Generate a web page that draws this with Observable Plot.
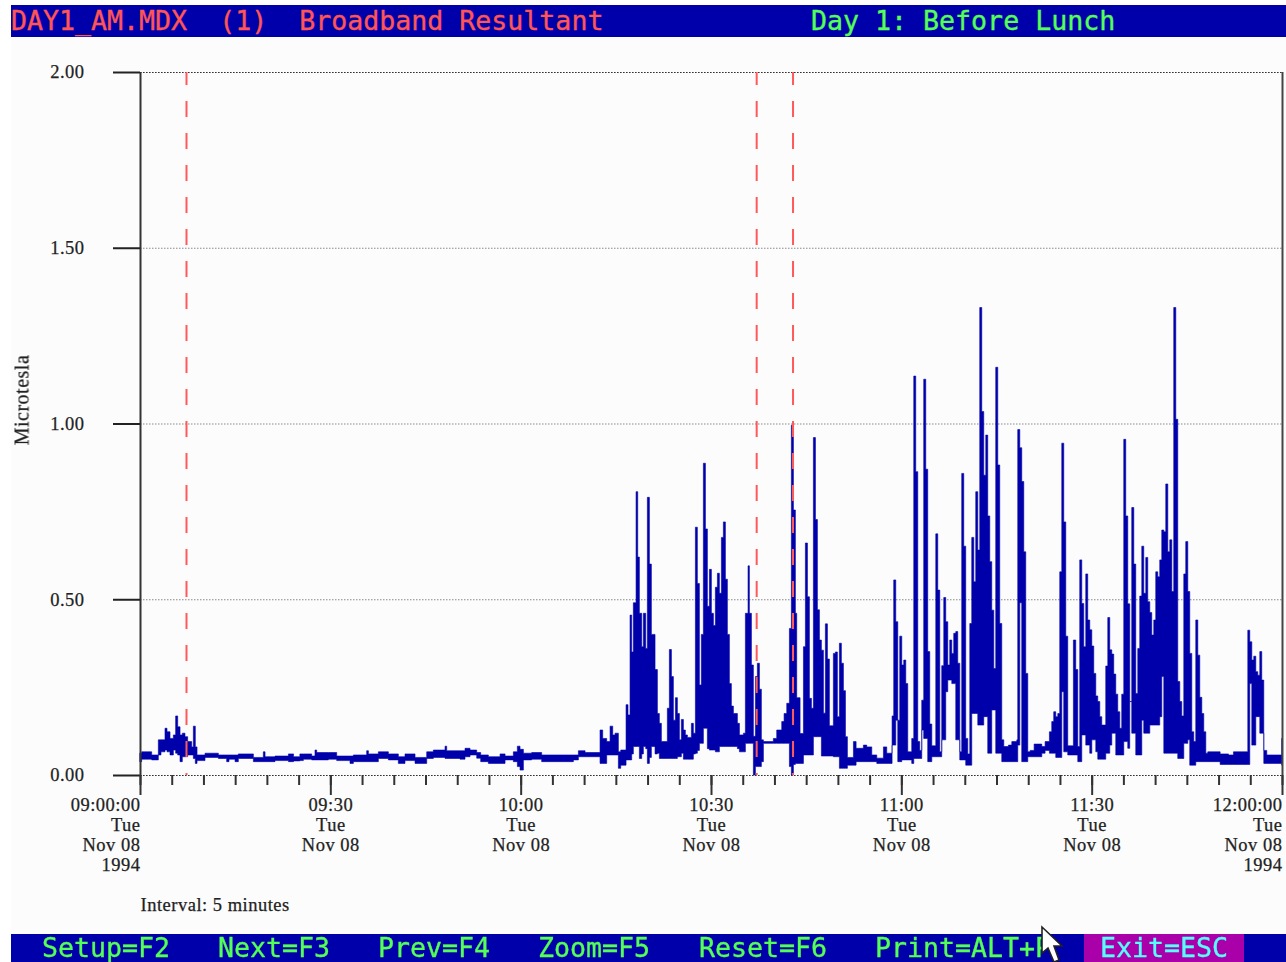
<!DOCTYPE html>
<html><head><meta charset="utf-8">
<script src="https://cdn.jsdelivr.net/npm/d3@7"></script>
<script src="https://cdn.jsdelivr.net/npm/@observablehq/plot@0.6"></script>
<style>
html,body{margin:0;padding:0;background:#fff;width:1286px;height:962px;overflow:hidden}
#page{position:relative;width:1286px;height:962px;filter:blur(0.4px)}
.bar{position:relative;margin-left:11px;width:1275px;background:#0000aa;font-family:"DejaVu Sans Mono",monospace;font-size:26.6px;white-space:pre;-webkit-text-stroke:0.35px currentColor}
.bar span{position:absolute;line-height:26px;height:26px}
#head{margin-top:5px;height:32px}
#head span{top:3px}
#foot{height:28px}
#foot span{top:1px}
#chart{margin-left:11px;width:1275px;height:897px;background:#fcfcfc}
#chart svg{display:block;background:transparent}
#chart text{letter-spacing:.5px;stroke:#222;stroke-width:.25px}
#cursor{position:absolute;left:1040px;top:920px}
</style></head><body><div id="page">
<div id="head" class="bar"></div>
<div id="chart"></div>
<div id="foot" class="bar"></div>
<svg id="cursor" width="26" height="40" viewBox="0 0 26 40"><path d="M2 2V28L8 23L14 37L19 35L14 21H22Z" fill="#fff" stroke="#222" stroke-width="1.6"/></svg>
</div>
<script>
// minutes after 09:00:00 at which each reading starts
const minute = [
0,.26,1.84,2.89,3.31,3.94,4.26,4.73,5.26,5.62,5.94,6.31,6.67,7.09,7.51,8.15,8.41,8.72,8.99,10.25,
12.35,13.66,14.03,14.98,15.5,17.87,19.44,19.71,21.28,23.4,24.2,25.2,25.75,27.06,27.58,27.85,29.69,31,33.1,33.63,
35.73,36,37.57,39.15,40.72,41.77,43.35,45.19,46.24,48.08,48.34,50.44,51.23,52.02,53.07,53.7,54.91,56.75,57.54,58.85,
59.48,59.9,60.43,61.74,63.31,68.31,69.1,70.15,72.51,72.93,73.56,74.09,74.51,74.88,75.4,75.77,76.61,76.92,77.24,77.5,
77.76,78.19,78.45,78.71,79.08,79.34,79.71,79.97,80.29,80.6,81.18,81.55,81.86,82.18,83.12,83.44,83.76,84.07,84.39,84.7,
85.02,85.33,85.65,85.96,86.28,86.91,87.22,87.54,87.85,88.17,88.48,88.8,89.12,89.43,89.75,90.06,90.38,90.69,91.01,91.32,
91.64,91.95,92.27,92.58,92.9,93.21,93.53,94.16,94.48,95.11,95.42,95.84,96.05,96.37,96.68,97,97.31,97.63,97.94,98.26,
99.83,100.36,101.15,101.52,101.94,102.36,102.67,102.99,103.3,103.51,104.04,104.57,104.88,105.2,105.51,105.83,106.14,106.46,106.77,107.09,
107.4,107.72,108.03,108.35,108.66,109.29,109.61,109.92,110.24,110.55,110.87,111.19,111.5,112.45,112.87,114.02,114.55,115.34,116.13,117.18,
117.7,118.54,118.8,119.12,119.44,119.75,120.07,120.38,120.7,121.01,121.64,121.96,122.27,122.59,122.9,123.22,123.53,123.85,124.16,124.48,
124.8,125.43,125.74,126.06,126.37,126.69,127,127.32,127.63,127.95,128.26,128.58,128.89,129.21,129.52,129.84,130.15,130.47,130.79,131.1,
131.42,131.73,132.05,132.36,132.68,132.99,133.31,133.62,133.94,134.25,134.57,134.88,135.2,135.51,135.83,136.15,136.88,137.41,138.2,138.35,
138.67,138.98,139.3,139.61,139.93,140.3,140.93,142.14,142.66,143.34,143.71,144.02,144.34,144.66,144.97,145.29,145.6,145.92,146.23,147.12,
147.49,147.81,148.12,148.44,148.75,149.07,149.38,149.7,150.02,150.33,150.65,150.96,151.28,151.59,152.22,152.54,152.85,153.17,153.48,153.8,
154.11,154.43,154.74,155.06,155.37,155.69,156,156.32,156.64,156.95,157.27,157.58,157.9,158.21,158.53,158.84,159.16,159.47,159.79,160.1,
160.42,160.73,161.05,161.37,161.68,162,162.31,162.63,162.94,163.26,163.57,163.89,164.2,164.52,164.83,165.15,165.46,165.78,166.09,166.41,
166.73,167.04,167.36,167.67,167.99,168.3,170.25,171.56,172.35,173.66,174.61,174.92,175.24,175.55,175.87,176.18,176.5,176.81,177.13,177.6,
178.65,179.97,180];
// top of the trace in each reading (microtesla)
const high = [
.062,.066,.057,.1,.1,.133,.123,.104,.114,.168,.137,.114,.119,.109,.095,.08,.139,.08,.057,.062,
.057,.057,.057,.057,.06,.05,.066,.052,.054,.06,.052,.06,.06,.054,.071,.064,.064,.054,.054,.057,
.069,.06,.066,.06,.052,.06,.05,.066,.071,.082,.069,.069,.076,.071,.064,.057,.052,.06,.054,.066,
.082,.073,.062,.064,.057,.057,.069,.064,.128,.104,.095,.139,.114,.119,.066,.071,.2,.171,.455,.35,
.49,.806,.62,.46,.365,.46,.36,.79,.6,.4,.3,.175,.147,.095,.19,.357,.28,.156,.22,.175,
.1,.158,.128,.114,.107,.147,.119,.705,.545,.256,.4,.887,.7,.48,.585,.46,.425,.534,.574,.517,
.676,.72,.557,.4,.26,.196,.175,.147,.114,.119,.46,.595,.46,.313,.11,.28,.318,.244,.1,.095,
.104,.128,.152,.175,.204,.417,.995,.754,.46,.22,.118,.365,.66,.507,.218,.19,.96,.727,.47,.384,
.355,.176,.43,.33,.14,.346,.35,.166,.375,.318,.24,.109,.05,.095,.076,.085,.08,.057,.048,.08,
.062,.168,.555,.436,.156,.395,.313,.327,.26,.066,.104,1.135,.863,.095,.07,.213,1.126,.87,.351,.145,
.083,.686,.526,.066,.311,.505,.436,.313,.384,.346,.403,.408,.318,.066,.858,.651,.104,.06,.431,.676,
.55,.806,.64,1.33,1.034,.853,.967,.737,.607,.469,.303,1.16,.882,.431,.1,.081,.085,.095,.1,.983,
.931,.835,.635,.289,.066,.07,.088,.081,.095,.123,.152,.18,.166,.175,.578,.944,.72,.395,.083,.384,
.3,.081,.612,.488,.365,.572,.441,.413,.367,.289,.225,.209,.166,.142,.31,.448,.356,.344,.287,.23,
.18,.133,.23,.955,.737,.487,.209,.761,.6,.232,.36,.509,.651,.517,.619,.493,.462,.398,.441,.578,
.564,.612,.697,.692,.828,.635,.669,.522,1.33,1.012,.266,.209,.168,.572,.664,.522,.346,.123,.095,.441,
.341,.221,.175,.123,.062,.066,.06,.057,.066,.066,.412,.379,.327,.338,.294,.284,.351,.27,.07,.057,
.057,.104,.104];
// bottom of the trace in each reading (microtesla)
const low = [
.038,.045,.043,.057,.066,.071,.066,.057,.071,.062,.057,.038,.052,.052,.057,.057,.047,.033,.041,.05,
.047,.038,.045,.038,.047,.038,.038,.038,.041,.038,.04,.041,.045,.043,.043,.043,.045,.041,.033,.038,
.038,.038,.047,.043,.033,.041,.033,.047,.05,.047,.047,.045,.052,.057,.048,.038,.033,.033,.043,.038,
.024,.014,.043,.045,.038,.043,.052,.052,.033,.033,.057,.057,.057,.057,.019,.028,.043,.043,.043,.06,
.081,.081,.081,.047,.06,.081,.075,.033,.05,.081,.06,.062,.047,.047,.047,.047,.047,.047,.047,.052,
.052,.062,.045,.045,.045,.045,.06,.062,.07,.09,.09,.133,.133,.075,.071,.071,.071,.066,.066,.081,
.081,.081,.081,.081,.081,.081,.081,.075,.066,.066,.09,.09,.09,.09,0,.024,.024,.024,.038,.09,
.09,.09,.09,.09,.09,.024,0,.03,.033,.033,.033,.057,.057,.057,.057,.057,.109,.109,.109,.109,
.054,.054,.054,.054,.054,.052,.052,.052,.019,.019,.019,.019,.028,.028,.038,.038,.038,.038,.033,.033,
.033,.085,.085,.156,.038,.038,.043,.043,.043,.043,.033,.047,.047,.047,.047,.128,.104,.104,.038,.038,
.052,.052,.052,.052,.1,.1,.237,.27,.27,.26,.26,.1,.1,.043,.043,.043,.028,.028,.028,.175,
.175,.175,.142,.142,.142,.166,.166,.062,.062,.185,.185,.062,.062,.062,.038,.038,.038,.038,.038,.085,
.49,.038,.038,.038,.052,.052,.052,.062,.07,.062,.062,.062,.05,.05,.05,.237,.066,.066,.057,.057,
.057,.038,.038,.114,.114,.085,.085,.062,.1,.1,.066,.045,.045,.045,.062,.062,.085,.119,.119,.057,
.057,.057,.057,.095,.095,.076,.209,.119,.119,.057,.057,.057,.156,.119,.119,.119,.142,.142,.142,.142,
.142,.166,.28,.062,.062,.062,.062,.062,.062,.062,.047,.047,.047,.09,.09,.1,.028,.028,.028,.038,
.038,.038,.038,.038,.038,.038,.03,.03,.03,.03,.03,.26,.085,.085,.166,.166,.119,.119,.033,.033,
.033,.028,.028];
const yTicks = [0, 0.5, 1, 1.5, 2];
const minorTickMinutes = d3.range(0, 181, 5);
const majorTickMinutes = [0, 30, 60, 90, 120, 150, 180];
const markerMinutes = [7.25, 97.12, 102.85];
const middleLabels = [
  [30, "09:30\nTue\nNov 08"], [60, "10:00\nTue\nNov 08"], [90, "10:30\nTue\nNov 08"],
  [120, "11:00\nTue\nNov 08"], [150, "11:30\nTue\nNov 08"]
];
const endLabels = [[0, "09:00:00\nTue\nNov 08\n1994"], [180, "12:00:00\nTue\nNov 08\n1994"]];
const headItems = [["DAY1_AM.MDX  (1)  Broadband Resultant", 0, "#ff5555"], ["Day 1: Before Lunch", 800, "#55ff55"]];
const footItems = [["Setup=F2", 31], ["Next=F3", 207], ["Prev=F4", 367], ["Zoom=F5", 527], ["Reset=F6", 688], ["Print=ALT+P", 864]];

const at = m => new Date(Date.UTC(1994, 10, 8, 9, 0) + m * 60000);
const table = minute.map((m, i) => ({t: at(m), hi: high[i], lo: low[i]}));

const serif = '"Liberation Serif",serif';
const chart = Plot.plot({
  width: 1275, height: 897,
  marginLeft: 129, marginRight: 4, marginTop: 35, marginBottom: 159,
  style: {fontFamily: serif, fontSize: "18.5px", color: "#222", background: "transparent", overflow: "visible"},
  x: {type: "utc", domain: [at(0), at(180)]},
  y: {domain: [0, 2]},
  marks: [
    Plot.ruleY(yTicks, {stroke: "#8a8a8a", strokeWidth: 1, strokeDasharray: "1.5,1.5"}),
    Plot.ruleY([0, 2], {stroke: "#333", strokeWidth: 1.2, strokeDasharray: "1.5,1.5"}),
    Plot.areaY(table, {x: "t", y1: "lo", y2: "hi", curve: "step-after", fill: "#0000aa", stroke: "#0000aa", strokeWidth: 0.6}),
    Plot.ruleX(markerMinutes.map(at), {stroke: "#ff5a5a", strokeWidth: 2, strokeDasharray: "16,16", strokeDashoffset: 3}),
    Plot.ruleX([at(0)], {stroke: "#333", strokeWidth: 2}),
    Plot.ruleX([at(180)], {stroke: "#444", strokeWidth: 2}),
    Plot.axisY({ticks: yTicks, tickSize: 27, tickPadding: 29, tickFormat: d3.format(".2f"), label: null, stroke: "#222", strokeWidth: 2, fontSize: 18.5}),
    Plot.axisX(minorTickMinutes.map(at), {tickSize: 10, tickFormat: () => "", label: null, stroke: "#333", strokeWidth: 2}),
    Plot.axisX(majorTickMinutes.map(at), {tickSize: 20, tickFormat: () => "", label: null, stroke: "#333", strokeWidth: 2}),
    Plot.text(middleLabels, {x: d => at(d[0]), y: 0, text: d => d[1], textAnchor: "middle", lineAnchor: "top", dy: 21, lineHeight: 1.08, fontSize: 18.5, fill: "#222"}),
    Plot.text(endLabels, {x: d => at(d[0]), y: 0, text: d => d[1], textAnchor: "end", lineAnchor: "top", dy: 21, lineHeight: 1.08, fontSize: 18.5, fill: "#222"}),
    Plot.text(["Interval: 5 minutes"], {x: at(0), y: 0, textAnchor: "start", lineAnchor: "middle", dy: 130, fontSize: 18.5, fill: "#222"}),
    Plot.text(["Microtesla"], {frameAnchor: "left", dx: -118, dy: -24, rotate: -90, textAnchor: "middle", fontSize: 20, fill: "#222"})
  ]
});
document.getElementById("chart").append(chart);

const fill = (id, items) => {
  const bar = d3.select(id);
  items.forEach(([s, x, c]) => bar.append("span").style("left", x + "px").style("color", c || "#55ff55").text(s));
};
fill("#head", headItems);
fill("#foot", footItems);
d3.select("#foot").append("div").style("position", "absolute").style("left", "1073px").style("top", 0).style("width", "160px").style("height", "28px").style("background", "#aa00aa");
d3.select("#foot").append("span").style("left", "1089px").style("color", "#55ffff").text("Exit=ESC");
</script></body></html>
